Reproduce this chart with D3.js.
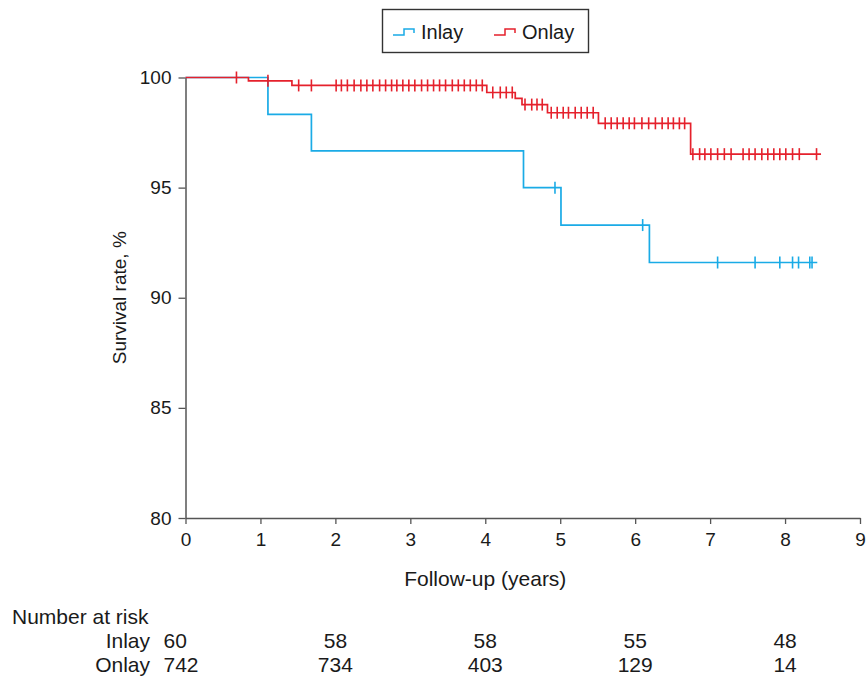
<!DOCTYPE html>
<html>
<head>
<meta charset="utf-8">
<script src="https://cdn.jsdelivr.net/npm/d3@7"></script>
<style>
  html, body { margin: 0; padding: 0; background: #fff; }
  svg text { font-family: 'Liberation Sans', Arial, Helvetica, sans-serif; fill: #1a1a1a; }
</style>
</head>
<body>
<div id="chart"></div>
<script>
// Kaplan-Meier steps (years, survival %)
const inlayTimes = [0, 1.10, 1.68, 4.51, 5.01, 6.19];
const inlaySurv  = [100, 98.33, 96.67, 95.0, 93.30, 91.6];
const inlayEnd = 8.43;
const inlayCensor = [4.93, 6.10, 7.10, 7.60, 7.93, 8.10, 8.18, 8.33, 8.36];

const onlayTimes = [0, 0.84, 1.42, 4.02, 4.40, 4.49, 4.83, 5.51, 6.74];
const onlaySurv  = [100, 99.85, 99.64, 99.32, 99.05, 98.77, 98.40, 97.92, 96.52];
const onlayEnd = 8.48;
const onlayCensor = [
  0.68, 1.10, 1.51, 1.68,
  2.01, 2.08, 2.16, 2.25, 2.34, 2.42, 2.50, 2.59, 2.67, 2.75, 2.82, 2.90, 2.98,
  3.06, 3.15, 3.23, 3.31, 3.39, 3.47, 3.56, 3.64, 3.72, 3.80, 3.88, 3.96,
  4.10, 4.20, 4.28, 4.36,
  4.53, 4.62, 4.69, 4.76,
  4.88, 4.96, 5.04, 5.11, 5.20, 5.28, 5.36, 5.44,
  5.60, 5.68, 5.76, 5.84, 5.92, 5.99, 6.09, 6.18, 6.27, 6.36, 6.44, 6.51, 6.59, 6.66,
  6.77, 6.86, 6.93, 7.01, 7.10, 7.19, 7.28, 7.44, 7.52, 7.60, 7.69, 7.77, 7.85,
  7.93, 8.01, 8.10, 8.19, 8.42
];

const xTicks = [0, 1, 2, 3, 4, 5, 6, 7, 8, 9];
const yTicks = [80, 85, 90, 95, 100];

const riskTimes = [0, 2, 4, 6, 8];
const riskInlay = [60, 58, 58, 55, 48];
const riskOnlay = [742, 734, 403, 129, 14];

const BLUE = '#1aabe6', RED = '#e5212c', AXIS = '#555';

const W = 867, H = 677;
const svg = d3.select('#chart').append('svg').attr('width', W).attr('height', H);

const x = d3.scaleLinear().domain([0, 9]).range([185.5, 860]);
const y = d3.scaleLinear().domain([80, 100]).range([518, 77.5]);

// axes
const gx = svg.append('g').attr('transform', `translate(0,${y(80)})`)
  .call(d3.axisBottom(x).tickValues(xTicks).tickSize(6).tickSizeOuter(0).tickPadding(9).tickFormat(d3.format('d')));
const gy = svg.append('g').attr('transform', `translate(${x(0)},0)`)
  .call(d3.axisLeft(y).tickValues(yTicks).tickSize(7).tickSizeOuter(0).tickPadding(7).tickFormat(d3.format('d')));
[gx, gy].forEach(g => {
  g.selectAll('.domain').attr('stroke', AXIS).attr('stroke-width', 1.5);
  g.selectAll('.tick line').attr('stroke', AXIS).attr('stroke-width', 1.3);
  g.selectAll('.tick text').style('font-size', '19px').style('font-family', "'Liberation Sans', Arial, sans-serif").attr('fill', '#1a1a1a');
});

svg.append('text').attr('x', x(4)).attr('y', 586).attr('text-anchor', 'middle')
  .style('font-size', '21px').text('Follow-up (years)');
svg.append('text').attr('transform', `translate(126,${y(90)}) rotate(-90)`).attr('text-anchor', 'middle')
  .style('font-size', '19px').text('Survival rate, %');

// curves
function survAt(times, surv, t) {
  let s = surv[0];
  for (let i = 0; i < times.length; i++) if (times[i] <= t) s = surv[i];
  return s;
}
const stepLine = d3.line().x(d => x(d[0])).y(d => y(d[1])).curve(d3.curveStepAfter);

function drawCurve(times, surv, end, censor, color) {
  const pts = times.map((t, i) => [t, surv[i]]);
  pts.push([end, surv[surv.length - 1]]);
  svg.append('path').datum(pts).attr('fill', 'none').attr('stroke', color)
    .attr('stroke-width', 1.7).attr('d', stepLine);
  svg.append('g').selectAll('line').data(censor).enter().append('line')
    .attr('x1', d => x(d)).attr('x2', d => x(d))
    .attr('y1', d => y(survAt(times, surv, d)) - 6)
    .attr('y2', d => y(survAt(times, surv, d)) + 6)
    .attr('stroke', color).attr('stroke-width', 1.6);
}
drawCurve(inlayTimes, inlaySurv, inlayEnd, inlayCensor, BLUE);
drawCurve(onlayTimes, onlaySurv, onlayEnd, onlayCensor, RED);

// legend
const lg = svg.append('g');
lg.append('rect').attr('x', 382.5).attr('y', 9.5).attr('width', 206).attr('height', 43)
  .attr('fill', '#fff').attr('stroke', '#333').attr('stroke-width', 1.4);
[['Inlay', BLUE, 393], ['Onlay', RED, 494]].forEach(([name, c, lx]) => {
  lg.append('path').attr('d', `M${lx},35 H${lx + 11} V29 H${lx + 21} V33`)
    .attr('fill', 'none').attr('stroke', c).attr('stroke-width', 1.5);
  lg.append('text').attr('x', lx + 28).attr('y', 38.5).style('font-size', '20px').text(name);
});

// number at risk table
svg.append('text').attr('x', 12).attr('y', 624).style('font-size', '21px').text('Number at risk');
[['Inlay', riskInlay, 648], ['Onlay', riskOnlay, 672]].forEach(([name, vals, by]) => {
  svg.append('text').attr('x', 150).attr('y', by).attr('text-anchor', 'end').style('font-size', '21px').text(name);
  svg.append('g').selectAll('text').data(vals).enter().append('text')
    .attr('x', (d, i) => i === 0 ? x(riskTimes[i]) - 22 : x(riskTimes[i]))
    .attr('y', by)
    .attr('text-anchor', (d, i) => i === 0 ? 'start' : 'middle')
    .style('font-size', '21px').text(d => d);
});
</script>
</body>
</html>
